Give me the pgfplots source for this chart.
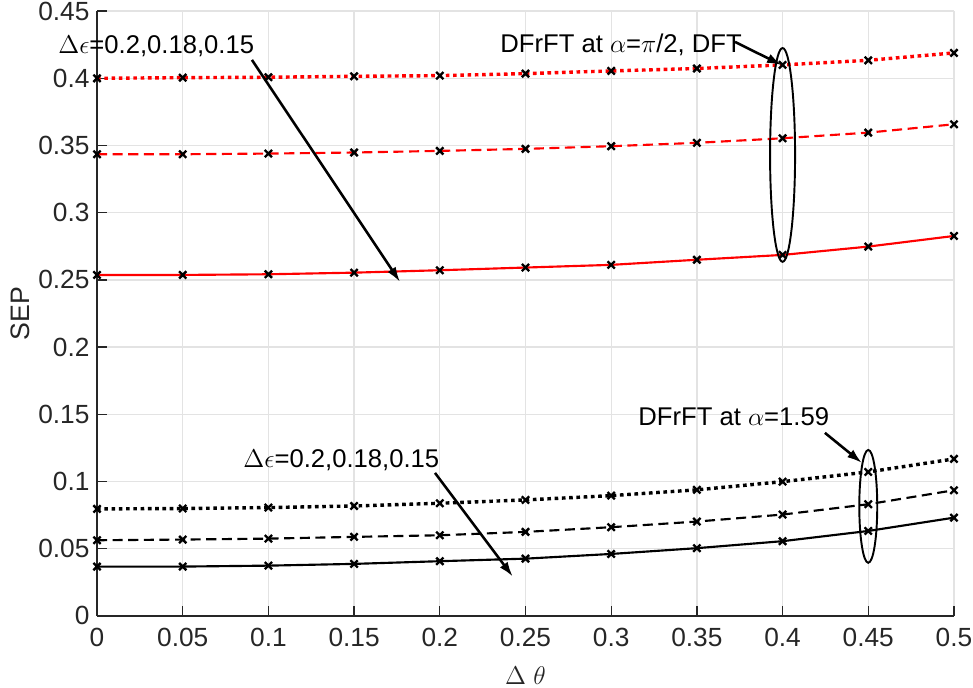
\documentclass[border=0pt]{standalone}
\usepackage{fontspec}
\setmainfont{Liberation Sans}
\usepackage{pgfplots}
\pgfplotsset{compat=1.18}
\usetikzlibrary{arrows.meta}
\definecolor{axgray}{HTML}{262626}
\definecolor{gridgray}{HTML}{E3E3E3}
\begin{document}
\begin{tikzpicture}
\begin{axis}[
  scale only axis, width=401pt, height=283pt,
  xmin=0, xmax=0.5, ymin=0, ymax=0.45,
  xtick={0,0.05,0.1,0.15,0.2,0.25,0.3,0.35,0.4,0.45,0.5},
  ytick={0,0.05,0.1,0.15,0.2,0.25,0.3,0.35,0.4,0.45},
  scaled ticks=false,
  xticklabel style={/pgf/number format/fixed, /pgf/number format/precision=2, yshift=-2pt},
  yticklabel style={/pgf/number format/fixed, /pgf/number format/precision=2},
  /pgf/number format/assume math mode=true,
  tick label style={font=\fontsize{12.3}{14}\selectfont, text=axgray},
  label style={font=\fontsize{12.5}{14}\selectfont, text=axgray},
  axis x line*=bottom, axis y line*=left,
  axis line style={axgray, line width=0.6pt},
  tick align=inside, major tick length=4.5pt,
  tick style={axgray, line width=0.6pt},
  grid=major, major grid style={gridgray, line width=0.6pt},
  xlabel={$\Delta~\theta$}, ylabel={SEP},
  xlabel style={yshift=-2.5pt},
  ylabel style={yshift=-3pt},
  clip=false,
  every axis plot/.append style={mark=x, mark size=2.4pt, mark options={black, solid, line width=1.1pt}},
]
% red dotted
\addplot[red, line width=1.6pt, dash pattern=on 1.7pt off 1.7pt] coordinates {
(0,0.400) (0.05,0.4005) (0.1,0.4008) (0.15,0.4015) (0.2,0.402) (0.25,0.4035) (0.3,0.4055) (0.35,0.4073) (0.4,0.410) (0.45,0.4134) (0.5,0.4189)};
% red dashed
\addplot[red, line width=1pt, dash pattern=on 4.7pt off 2.6pt] coordinates {
(0,0.3435) (0.05,0.3435) (0.1,0.344) (0.15,0.3448) (0.2,0.346) (0.25,0.3475) (0.3,0.3495) (0.35,0.352) (0.4,0.3554) (0.45,0.3596) (0.5,0.3658)};
% red solid
\addplot[red, line width=1pt] coordinates {
(0,0.2537) (0.05,0.2537) (0.1,0.2542) (0.15,0.2554) (0.2,0.2572) (0.25,0.2592) (0.3,0.2612) (0.35,0.265) (0.4,0.2686) (0.45,0.2748) (0.5,0.2827)};
% black dotted
\addplot[black, line width=1.6pt, dash pattern=on 1.7pt off 1.7pt] coordinates {
(0,0.0796) (0.05,0.0799) (0.1,0.0806) (0.15,0.0818) (0.2,0.0838) (0.25,0.0863) (0.3,0.0895) (0.35,0.0938) (0.4,0.0999) (0.45,0.1071) (0.5,0.1168)};
% black dashed
\addplot[black, line width=1pt, dash pattern=on 4.7pt off 2.6pt] coordinates {
(0,0.0563) (0.05,0.0568) (0.1,0.0575) (0.15,0.0588) (0.2,0.0600) (0.25,0.0625) (0.3,0.0660) (0.35,0.0702) (0.4,0.0754) (0.45,0.0831) (0.5,0.0935)};
% black solid
\addplot[black, line width=1pt] coordinates {
(0,0.0367) (0.05,0.0367) (0.1,0.0374) (0.15,0.0387) (0.2,0.0407) (0.25,0.0426) (0.3,0.0461) (0.35,0.0504) (0.4,0.0556) (0.45,0.0632) (0.5,0.0731)};

% annotations
\node[anchor=west, inner sep=0pt, font=\fontsize{12}{14}\selectfont] at (axis cs:-0.0228,0.424) {$\Delta\epsilon$=0.2,0.18,0.15};
\draw[line width=1.2pt, -{Latex[length=7pt,width=4.5pt]}] (axis cs:0.0904,0.4137) -- (axis cs:0.1768,0.2485);
\node[anchor=west, inner sep=0pt, font=\fontsize{12}{14}\selectfont] at (axis cs:0.0852,0.1161) {$\Delta\epsilon$=0.2,0.18,0.15};
\draw[line width=1.2pt, -{Latex[length=7pt,width=4.5pt]}] (axis cs:0.1972,0.1064) -- (axis cs:0.2426,0.0292);
\node[anchor=west, inner sep=0pt, font=\fontsize{12}{14}\selectfont] at (axis cs:0.2351,0.4249) {DFrFT at $\alpha$=$\pi$/2, DFT};
\draw[line width=1.2pt, -{Latex[length=7pt,width=4.5pt]}] (axis cs:0.3722,0.4271) -- (axis cs:0.3996,0.4098);
\node[anchor=west, inner sep=0pt, font=\fontsize{12}{14}\selectfont] at (axis cs:0.3156,0.148) {DFrFT at $\alpha$=1.59};
\draw[line width=1.2pt, -{Latex[length=7pt,width=4.5pt]}] (axis cs:0.4247,0.1362) -- (axis cs:0.4463,0.1138);
\draw[black, line width=0.9pt] (axis cs:0.4,0.343) ellipse [x radius=5.85pt, y radius=50pt];
\draw[black, line width=0.9pt] (axis cs:0.45,0.0815) ellipse [x radius=4.2pt, y radius=26.4pt];
\end{axis}
\pgfresetboundingbox
\path (current axis.south west) ++(-45.4pt,-33.7pt) coordinate (bbsw);
\path (current axis.south west) ++(409.9pt,288.2pt) coordinate (bbne);
\path (bbsw) rectangle (bbne);
\end{tikzpicture}
\end{document}
